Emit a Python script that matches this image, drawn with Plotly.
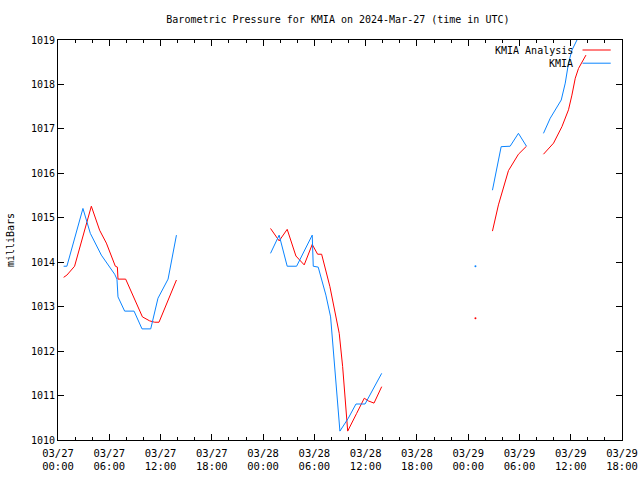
import plotly.graph_objects as go

# hours since 2024-03-27 00:00 UTC ; None = gap
obs_hours = [0.66, 1.04, 2.92, 3.78, 5.07, 6.63, 6.9, 7.02, 7.8, 8.9, 9.83, 10.85, 11.7, 12.88, 13.86, None,
             24.87, 25.88, 26.82, 27.92, 29.75, 29.87, 30.45, 31.35, 31.9, 32.14, 32.49, 32.8, 32.99, 33.97,
             34.87, 35.93, 37.88, None,
             48.85, None,
             50.84, 51.86, 52.91, 53.88, 54.82, None,
             56.81, 57.6, 58.89, 59.36, 59.74, 60.14, 60.73, 61.0]
obs_mb = [1013.91, 1013.91, 1015.21, 1014.65, 1014.16, 1013.73, 1013.62, 1013.22, 1012.90, 1012.90, 1012.50,
          1012.50, 1013.19, 1013.62, 1014.61, None,
          1014.20, 1014.61, 1013.91, 1013.91, 1014.61, 1013.91, 1013.89, 1013.26, 1012.77, 1012.18, 1011.50,
          1010.67, 1010.20, 1010.49, 1010.81, 1010.81, 1011.50, None,
          1013.91, None,
          1015.62, 1016.60, 1016.61, 1016.90, 1016.61, None,
          1016.90, 1017.24, 1017.65, 1018.03, 1018.48, 1018.77, 1019.0, 1019.15]

ana_hours = [0.66, 1.04, 1.94, 3.9, 4.87, 5.66, 6.71, 6.95, 7.02, 7.92, 9.88, 10.73, 11.32, 11.82, 13.86, None,
             24.87, 25.88, 26.82, 27.84, 28.81, 29.75, 30.38, 30.85, 31.82, 32.41, 32.91, 33.31, 33.58, 33.9,
             34.95, 35.84, 36.31, 36.98, 37.88, None,
             48.85, None,
             50.84, 51.54, 52.71, 53.3, 53.88, 54.82, None,
             56.81, 57.99, 58.97, 59.74, 60.14, 60.53, 60.91, 61.31, 61.78]
ana_mb = [1013.66, 1013.71, 1013.91, 1015.26, 1014.72, 1014.43, 1013.91, 1013.89, 1013.62, 1013.62, 1012.77,
          1012.68, 1012.65, 1012.65, 1013.60, None,
          1014.76, 1014.48, 1014.74, 1014.14, 1013.94, 1014.40, 1014.18, 1014.18, 1013.45, 1012.92, 1012.40,
          1011.65, 1010.97, 1010.20, 1010.60, 1010.94, 1010.88, 1010.83, 1011.20, None,
          1012.74, None,
          1014.70, 1015.29, 1016.06, 1016.26, 1016.43, 1016.61, None,
          1016.43, 1016.68, 1017.05, 1017.43, 1017.76, 1018.14, 1018.36, 1018.51, 1018.66]

tick_hours = [0, 6, 12, 18, 24, 30, 36, 42, 48, 54, 60, 66]
tick_labels = ["03/27<br>00:00", "03/27<br>06:00", "03/27<br>12:00", "03/27<br>18:00",
               "03/28<br>00:00", "03/28<br>06:00", "03/28<br>12:00", "03/28<br>18:00",
               "03/29<br>00:00", "03/29<br>06:00", "03/29<br>12:00", "03/29<br>18:00"]
y_ticks = [1010, 1011, 1012, 1013, 1014, 1015, 1016, 1017, 1018, 1019]

RED = "#ff0000"
BLUE = "#0a84ff"
FONT = "DejaVu Sans Mono"


def isolated(xs, ys):
    px, py = [], []
    for i, (x, y) in enumerate(zip(xs, ys)):
        if x is None:
            continue
        prev_none = i == 0 or xs[i - 1] is None
        next_none = i == len(xs) - 1 or xs[i + 1] is None
        if prev_none and next_none:
            px.append(x)
            py.append(y)
    return px, py


fig = go.Figure()
fig.add_trace(go.Scatter(x=ana_hours, y=ana_mb, mode="lines", line=dict(color=RED, width=1),
                         connectgaps=False, showlegend=False))
fig.add_trace(go.Scatter(x=obs_hours, y=obs_mb, mode="lines", line=dict(color=BLUE, width=1),
                         connectgaps=False, showlegend=False))
ix, iy = isolated(ana_hours, ana_mb)
fig.add_trace(go.Scatter(x=ix, y=iy, mode="markers", marker=dict(color=RED, size=2), showlegend=False))
ix, iy = isolated(obs_hours, obs_mb)
fig.add_trace(go.Scatter(x=ix, y=iy, mode="markers", marker=dict(color=BLUE, size=2), showlegend=False))

# gnuplot-style legend (text right, sample line at right)
legend_items = [("KMIA Analysis", RED), ("KMIA", BLUE)]
for k, (name, col) in enumerate(legend_items):
    yy = 0.975 - k * 0.033
    fig.add_annotation(xref="paper", yref="paper", x=0.917, y=yy, text=name, showarrow=False,
                       xanchor="right", yanchor="middle", font=dict(family=FONT, size=10, color="black"))
    fig.add_shape(type="line", xref="paper", yref="paper", x0=0.93, x1=0.98, y0=yy, y1=yy,
                  line=dict(color=col, width=1))

fig.update_layout(
    width=640, height=480,
    margin=dict(l=58, r=18, t=40, b=40),
    paper_bgcolor="white", plot_bgcolor="white",
    font=dict(family=FONT, size=10, color="black"),
    title=dict(text="Barometric Pressure for KMIA on 2024-Mar-27 (time in UTC)", x=0.528, xanchor="center",
               y=0.96, yanchor="middle", font=dict(family=FONT, size=10)),
    showlegend=False,
)
fig.update_xaxes(range=[0, 66], tickvals=tick_hours, ticktext=tick_labels, showgrid=False, zeroline=False,
                 showline=True, linecolor="black", linewidth=1, mirror="allticks", ticks="inside",
                 ticklen=6, tickcolor="black", automargin=False, ticklabelstandoff=3,
                 tickfont=dict(family=FONT, size=10.5),
                 minor=dict(ticks="inside", dtick=2, ticklen=3, tickcolor="black", showgrid=False))
fig.update_yaxes(range=[1010, 1019], tickvals=y_ticks, showgrid=False, zeroline=False,
                 showline=True, linecolor="black", linewidth=1, mirror="allticks", ticks="inside",
                 ticklen=6, tickcolor="black", tickformat="d", automargin=False,
                 title=dict(text="milliBars", standoff=14, font=dict(family=FONT, size=10)))

fig.write_html("out.html")
